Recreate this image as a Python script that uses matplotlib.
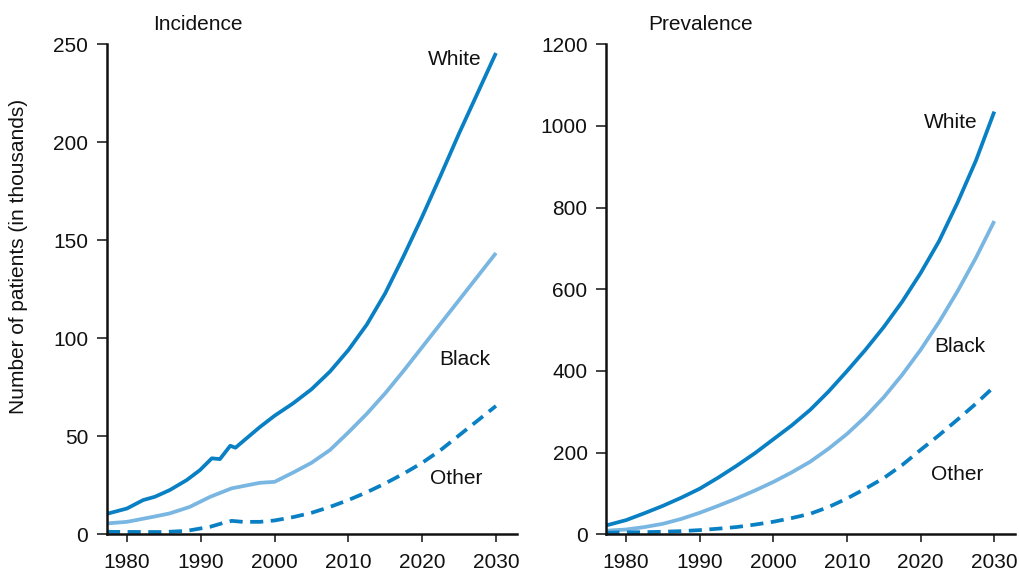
import matplotlib
matplotlib.use("Agg")
import matplotlib.pyplot as plt

plt.rcParams['font.family'] = ['Liberation Sans', 'DejaVu Sans']

# Incidence (thousands of patients)
inc_white_years = [1977.3, 1980, 1982.2, 1983.8, 1985.8, 1988.1, 1989.9, 1991.5, 1992.6,
                   1994.0, 1994.7, 1998.0, 2000.0, 2002.5, 2005.0, 2007.5, 2010.0,
                   2012.5, 2015.0, 2017.5, 2020.0, 2022.5, 2025.0, 2027.5, 2030.0]
inc_white = [10.5, 13.2, 17.5, 19.2, 22.6, 27.7, 32.8, 38.8, 38.4,
             45.2, 44.2, 54.7, 60.5, 66.8, 74.0, 83.0, 94.0,
             107.0, 123.0, 142.0, 162.0, 183.0, 204.5, 225.0, 245.5]

inc_black_years = [1977.3, 1980, 1983.6, 1985.8, 1988.5, 1991.3, 1994.2, 1995.7, 1998.0,
                   2000.0, 2002.5, 2005.0, 2007.5, 2010.0, 2012.5, 2015.0, 2017.5,
                   2020.0, 2022.5, 2025.0, 2027.5, 2030.0]
inc_black = [5.6, 6.4, 9.0, 10.7, 14.0, 19.2, 23.5, 24.6, 26.3,
             26.8, 31.5, 36.5, 43.0, 52.0, 61.5, 72.0, 83.5,
             95.5, 107.5, 119.5, 131.5, 143.5]

inc_other_years = [1977.3, 1985.0, 1988.1, 1991.3, 1993.1, 1994.2, 1995.7, 1998.0, 2000.0,
                   2002.5, 2005.0, 2007.5, 2010.0, 2012.5, 2015.0, 2017.5, 2020.0,
                   2022.5, 2025.0, 2027.5, 2030.0]
inc_other = [1.3, 1.2, 1.8, 3.9, 5.9, 6.9, 6.4, 6.4, 7.1,
             8.8, 11.0, 14.0, 17.5, 21.5, 26.0, 31.0, 36.5,
             43.0, 50.5, 58.0, 65.5]

# Prevalence (thousands of patients)
prev_years = [1977.3, 1980, 1982.5, 1985, 1987.5, 1990, 1992.5, 1995, 1997.5, 2000,
              2002.5, 2005, 2007.5, 2010, 2012.5, 2015, 2017.5, 2020, 2022.5, 2025,
              2027.5, 2030]
prev_white = [22, 35, 52, 70, 90, 112, 139, 168, 199, 233,
              267, 305, 350, 400, 452, 508, 570, 640, 718, 812,
              915, 1035]
prev_black = [9, 12, 18, 26, 38, 53, 70, 88, 107.5, 128.5,
              152, 178, 210, 246, 288, 336, 391, 452, 520, 595,
              677, 767]
prev_other = [4, 5, 5.5, 6.5, 8, 10.5, 14, 18, 24, 31,
              40, 50.5, 67, 88, 112, 138, 170, 207, 243, 281,
              320, 362]

x_ticks = [1980, 1990, 2000, 2010, 2020, 2030]
inc_ticks = [0, 50, 100, 150, 200, 250]
prev_ticks = [0, 200, 400, 600, 800, 1000, 1200]

dark_blue = '#0a80c4'
light_blue = '#79b6e1'
ink = '#111111'

fig = plt.figure(figsize=(10.19, 5.74), dpi=100)
ax1 = fig.add_axes([0.105, 0.069, 0.402, 0.854])
ax2 = fig.add_axes([0.595, 0.069, 0.401, 0.854])

lw = 2.7
solid = dict(lw=lw, solid_capstyle='butt', solid_joinstyle='round')
dashed = dict(lw=lw, dashes=(3.5, 2.0), dash_capstyle='butt', dash_joinstyle='round')

ax1.plot(inc_white_years, inc_white, color=dark_blue, **solid)
ax1.plot(inc_black_years, inc_black, color=light_blue, **solid)
ax1.plot(inc_other_years, inc_other, color=dark_blue, **dashed)

ax2.plot(prev_years, prev_white, color=dark_blue, **solid)
ax2.plot(prev_years, prev_black, color=light_blue, **solid)
ax2.plot(prev_years, prev_other, color=dark_blue, **dashed)

fs = 15
for ax, ticks, top in ((ax1, inc_ticks, 250), (ax2, prev_ticks, 1200)):
    ax.set_xlim(1977.3, 2032.8)
    ax.set_ylim(0, top)
    ax.set_xticks(x_ticks)
    ax.set_yticks(ticks)
    for side in ('top', 'right'):
        ax.spines[side].set_visible(False)
    for side in ('left', 'bottom'):
        ax.spines[side].set_linewidth(1.8)
        ax.spines[side].set_color(ink)
    ax.spines['left'].set_bounds(0, top)
    ax.tick_params(axis='both', direction='out', width=1.1, color=ink,
                   labelsize=fs, labelcolor=ink)
    ax.tick_params(axis='y', length=7, pad=6.5)
    ax.tick_params(axis='x', length=6, pad=7.5)
    ax.patch.set_visible(False)

ax1.text(2020.8, 242, 'White', fontsize=fs, va='center', ha='left', color=ink)
ax1.text(2022.3, 89.4, 'Black', fontsize=fs, va='center', ha='left', color=ink)
ax1.text(2021.1, 28.7, 'Other', fontsize=fs, va='center', ha='left', color=ink)

ax2.text(2020.5, 1009, 'White', fontsize=fs, va='center', ha='left', color=ink)
ax2.text(2021.8, 459, 'Black', fontsize=fs, va='center', ha='left', color=ink)
ax2.text(2021.4, 146, 'Other', fontsize=fs, va='center', ha='left', color=ink)

fig.text(0.150, 0.958, 'Incidence', fontsize=fs, va='center', ha='left', color=ink)
fig.text(0.636, 0.958, 'Prevalence', fontsize=fs, va='center', ha='left', color=ink)
fig.text(0.018, 0.553, 'Number of patients (in thousands)', fontsize=fs, rotation=90,
         va='center', ha='center', color=ink)

fig.savefig('out.png', dpi=100)
